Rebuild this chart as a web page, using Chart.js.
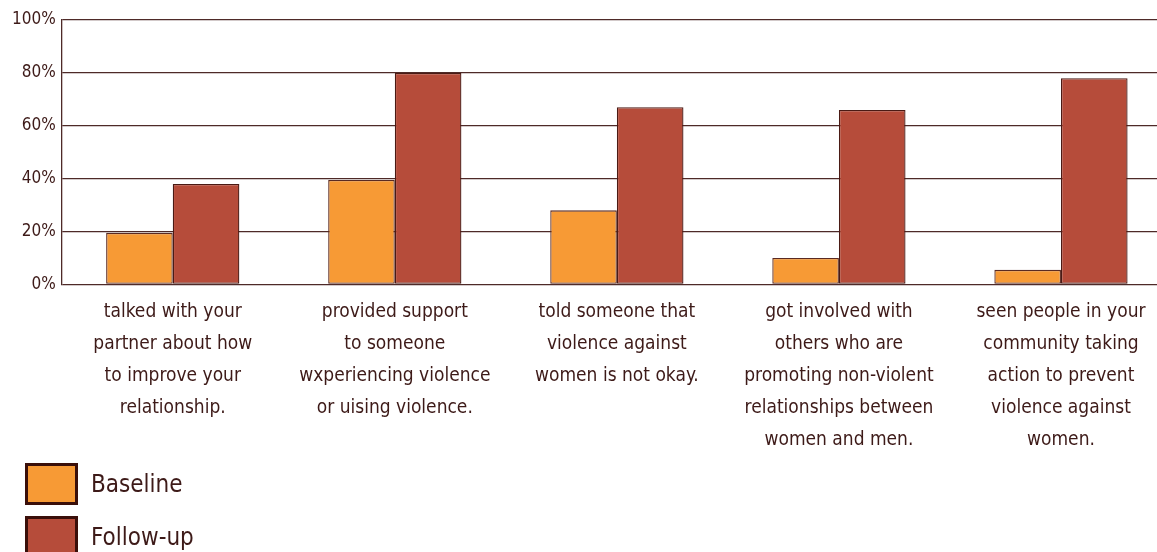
<!DOCTYPE html>
<html>
<head>
<meta charset="utf-8">
<script src="https://cdn.jsdelivr.net/npm/chart.js@4/dist/chart.umd.min.js"></script>
<style>
html,body{margin:0;padding:0;background:#fff;overflow:hidden;width:1157px;height:552px;}
#wrap{position:absolute;left:0;top:0;width:1172px;height:468px;}
#legend{position:absolute;left:25px;top:463px;font-family:'DejaVu Sans Condensed','Liberation Sans Narrow',sans-serif;font-size:24px;color:#3d1a18;}
.item{display:flex;align-items:center;height:42px;margin-bottom:11px;}
.box{width:47px;height:36px;border:3px solid #3a0f0a;margin-right:13px;}
</style>
</head>
<body>
<div id="wrap"><canvas id="c"></canvas></div>
<div id="legend"></div>
<script>
const categories = [
  ["talked with your","partner about how","to improve your","relationship."],
  ["provided support","to someone","wxperiencing violence","or uising violence."],
  ["told someone that","violence against","women is not okay."],
  ["got involved with","others who are","promoting non-violent","relationships between","women and men."],
  ["seen people in your","community taking","action to prevent","violence against","women."]
];
const seriesNames = ["Baseline","Follow-up"];
const baseline = [19.5, 39.5, 28, 10, 5.5];
const followUp = [38, 80, 67, 66, 78];
const yTicks = [0,20,40,60,80,100];

const FONT = "'DejaVu Sans Condensed','Liberation Sans Narrow',sans-serif";
const TXT = '#3d1a18';
const colors = ['#f79a35','#b64c3a'];

const chart = new Chart(document.getElementById('c'), {
  type: 'bar',
  data: {
    labels: categories,
    datasets: [
      {label: seriesNames[0], data: baseline, backgroundColor: colors[0], borderColor: '#5a2a22', borderWidth: 1.3, borderSkipped: false, categoryPercentage: 0.6, barPercentage: 1.0},
      {label: seriesNames[1], data: followUp, backgroundColor: colors[1], borderColor: '#4a1a14', borderWidth: 1.3, borderSkipped: false, categoryPercentage: 0.6, barPercentage: 1.0}
    ]
  },
  options: {
    responsive: true,
    maintainAspectRatio: false,
    animation: false,
    layout: {padding: {top: 20, right: 0, left: 6, bottom: 0}},
    plugins: {legend: {display: false}, tooltip: {enabled: false}},
    scales: {
      x: {
        grid: {display: false, drawTicks: false},
        border: {display: false},
        ticks: {color: TXT, font: {family: FONT, size: 19, lineHeight: 1.68}, padding: 12, maxRotation: 0, autoSkip: false}
      },
      y: {
        min: 0, max: 100,
        afterBuildTicks: (s) => { s.ticks = yTicks.map(v => ({value: v})); },
        grid: {color: '#4e2a28', lineWidth: 1.3, drawTicks: false},
        border: {display: true, color: '#4e2a28', width: 1.3},
        ticks: {color: TXT, font: {family: FONT, size: 17}, padding: 6, callback: v => v + '%'}
      }
    }
  }
});

const lg = document.getElementById('legend');
chart.data.datasets.forEach(ds => {
  const it = document.createElement('div'); it.className = 'item';
  const b = document.createElement('div'); b.className = 'box'; b.style.background = ds.backgroundColor;
  const t = document.createElement('span'); t.textContent = ds.label;
  it.appendChild(b); it.appendChild(t); lg.appendChild(it);
});
</script>
</body>
</html>
